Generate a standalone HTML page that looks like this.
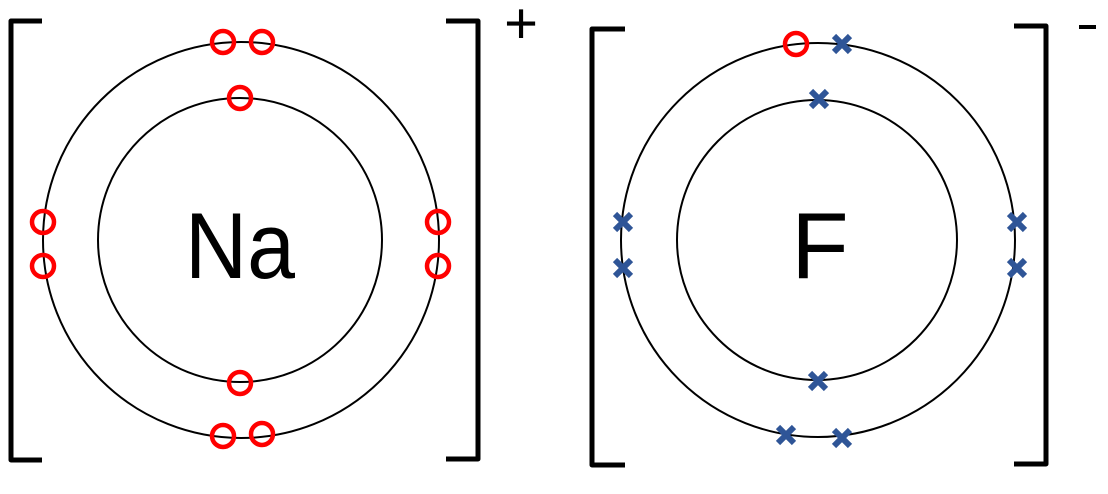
<!DOCTYPE html>
<html><head><style>body{margin:0;background:#fff}svg{display:block}</style></head>
<body>
<svg width="1108" height="494" viewBox="0 0 1108 494" xmlns="http://www.w3.org/2000/svg">
<g fill="none" stroke="#000" stroke-width="2">
<circle cx="241" cy="240" r="198"/>
<circle cx="240" cy="240" r="142"/>
<circle cx="818" cy="240" r="197"/>
<circle cx="817" cy="240" r="140"/>
</g>
<g fill="none" stroke="#000" stroke-width="5" stroke-linejoin="round">
<path d="M42 21 H11 V460 H42"/>
<path d="M446 21 H478 V459 H446"/>
<path d="M625 29 H592 V465 H625"/>
<path d="M1014 26 H1046 V464 H1014"/>
</g>
<text x="521" y="43" font-family="Liberation Sans, sans-serif" font-size="58" text-anchor="middle">+</text>
<rect x="1079" y="25" width="17" height="4" fill="#000"/>
<text x="240" y="278" font-family="Liberation Sans, sans-serif" font-size="94" text-anchor="middle" textLength="110" lengthAdjust="spacingAndGlyphs">Na</text>
<text x="820" y="278" font-family="Liberation Sans, sans-serif" font-size="94" text-anchor="middle">F</text>
<g fill="none" stroke="#f00" stroke-width="4.5">
<circle cx="223" cy="42" r="11"/><circle cx="262" cy="42" r="11"/>
<circle cx="240" cy="98" r="11"/>
<circle cx="43" cy="222" r="11"/><circle cx="43" cy="266" r="11"/>
<circle cx="438" cy="222" r="11"/><circle cx="438" cy="266" r="11"/>
<circle cx="240" cy="383" r="11"/>
<circle cx="223" cy="436" r="11"/><circle cx="262" cy="434" r="11"/>
<circle cx="796" cy="44" r="11"/>
</g>
<g stroke="#2F5597" stroke-width="6">
<path d="M834 36 l16 16 M850 36 l-16 16"/>
<path d="M811 91 l16 16 M827 91 l-16 16"/>
<path d="M615 214 l16 16 M631 214 l-16 16"/>
<path d="M615 260 l16 16 M631 260 l-16 16"/>
<path d="M1009 214 l16 16 M1025 214 l-16 16"/>
<path d="M1009 260 l16 16 M1025 260 l-16 16"/>
<path d="M810 373 l16 16 M826 373 l-16 16"/>
<path d="M778 427 l16 16 M794 427 l-16 16"/>
<path d="M834 430 l16 16 M850 430 l-16 16"/>
</g>
</svg>
</body></html>
